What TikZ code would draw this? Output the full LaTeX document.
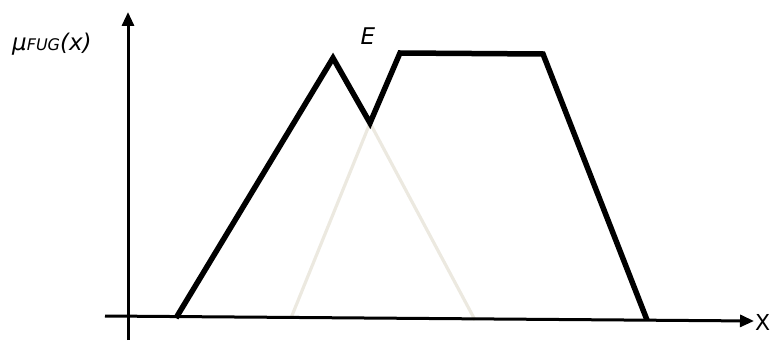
\documentclass[tikz,border=0pt]{standalone}
\usepackage{fontspec}
\setmainfont{DejaVu Sans}
\usetikzlibrary{arrows.meta}
\begin{document}
\begin{tikzpicture}[x=1pt,y=-1pt,
  axis/.style={line width=3pt,-{Triangle[length=14pt,width=12pt]}},
  fuzzy/.style={line width=5.5pt,line join=miter,black},
  pale/.style={line width=3.2pt,color={rgb,255:red,236;green,233;blue,224}},
  lbl/.style={font=\itshape\fontsize{23}{26}\selectfont,text=black,inner sep=0pt}]
\useasboundingbox (0,0) rectangle (779,345);
% points
\coordinate (a0) at (176,318);
\coordinate (a1) at (333,58);
\coordinate (e) at (370,123);
\coordinate (a3) at (400,53);
\coordinate (a4) at (543,54);
\coordinate (a5) at (647,320);
\coordinate (g0) at (291,318);
\coordinate (g2) at (475,320);
\coordinate (yb) at (128,340);
\coordinate (yt) at (128,12);
\coordinate (xl) at (105,316);
\coordinate (xr) at (754,321);
% pale triangle
\draw[pale] (g0) -- (e) -- (g2);
% axes
\draw[axis] (yb) -- (yt);
\draw[axis] (xl) -- (xr);
% union membership
\draw[fuzzy] (a0) -- (a1) -- (e) -- (a3) -- (a4) -- (a5);
% labels
\node[lbl,anchor=base west] (mu) at (12,51) {μ{\fontsize{16}{18}\selectfont FUG}(x)};
\node[lbl,anchor=base] (el) at (368,45) {E};
\node[lbl,anchor=base west,font=\fontsize{22}{24}\selectfont] (xlab) at (755,330) {X};
\end{tikzpicture}
\end{document}
